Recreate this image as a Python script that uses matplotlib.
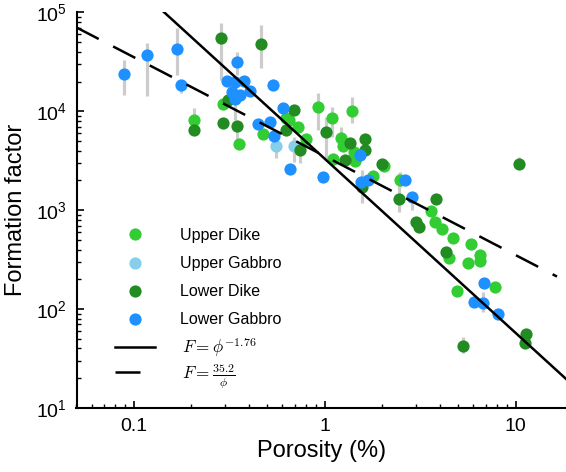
import numpy as np
import matplotlib
matplotlib.use("Agg")
import matplotlib.pyplot as plt
from matplotlib.font_manager import FontProperties
from matplotlib.lines import Line2D

plt.rcParams['font.family'] = ['Liberation Sans', 'DejaVu Sans']

# ---------------- data (porosity in %, formation factor) ----------------
ud_phi = [0.207, 0.294, 0.356, 0.474, 0.626, 0.647, 0.723, 0.797, 0.922, 1.093,
          1.392, 1.224, 1.244, 1.102, 1.43, 1.438, 2.044, 1.789, 2.472, 3.60,
          3.79, 4.14, 4.68, 5.83, 4.49, 5.61, 6.54, 6.54, 4.91, 7.85]
ud_F = [8110, 11720, 4675, 5885, 8635, 8110, 6940, 5275, 10970, 8600,
        10160, 5420, 4430, 3330, 3880, 3125, 2782, 2205, 2023, 993,
        762, 643, 527, 454, 330, 290, 351, 305, 154, 166]
ud_lo = [8110, 11720, 4675, 5885, 8635, 8110, 6940, 5275, 6430, 5460,
         7560, 4430, 4430, 3330, 3880, 3125, 2782, 2205, 1700, 993,
         762, 643, 527, 454, 330, 290, 351, 305, 154, 166]
ud_hi = [10720, 11720, 4675, 5885, 8635, 8110, 6940, 5275, 15200, 10970,
         13840, 6940, 4430, 3330, 3880, 3125, 2782, 2205, 2420, 993,
         762, 643, 527, 454, 330, 290, 351, 305, 154, 190]

ug_phi = [0.556, 0.687]
ug_F = [4430, 4430]
ug_lo = [3350, 3055]
ug_hi = [5100, 5460]

ld_phi = [0.207, 0.286, 0.464, 0.294, 0.310, 0.347, 0.687, 0.626, 0.745, 1.02,
          1.349, 1.633, 1.624, 1.274, 2.002, 1.575, 2.46, 3.84, 3.02, 3.12,
          4.32, 10.4, 5.31, 11.29, 11.15]
ld_F = [6530, 55000, 48300, 7690, 12900, 7170, 10400, 6500, 4040, 6180,
        4785, 5275, 4105, 3200, 2950, 1708, 1313, 1283, 757, 673,
        381, 2900, 42.3, 55.5, 45.7]
ld_lo = [6530, 20560, 27200, 7690, 12900, 5100, 10400, 6500, 2985, 3200,
         4785, 5275, 4105, 3200, 2950, 1177, 955, 1283, 757, 673,
         381, 2900, 35.9, 55.5, 45.7]
ld_hi = [6530, 77400, 73900, 7690, 12900, 7170, 10400, 6500, 4040, 8690,
         4785, 5275, 4105, 3200, 2950, 2535, 2365, 1283, 757, 673,
         381, 3430, 52.1, 55.5, 45.7]

lg_phi = [0.0886, 0.1175, 0.1675, 0.1774, 0.347, 0.306, 0.339, 0.378, 0.328, 0.360,
          0.339, 0.406, 0.535, 0.446, 0.515, 0.545, 0.606, 0.654, 0.976, 1.523,
          1.690, 1.556, 2.628, 2.871, 6.81, 6.03, 6.73, 8.14]
lg_F = [24040, 37400, 42300, 18450, 31770, 20100, 19770, 20330, 15670, 14510,
        13430, 16030, 18450, 7390, 7740, 5660, 10900, 2625, 2170, 3655,
        2043, 1918, 2010, 1353, 183, 117, 116, 89]
lg_lo = [14510, 14180, 23100, 15200, 23100, 20100, 19770, 20330, 15670, 14510,
         8110, 16030, 18450, 7390, 7740, 5660, 10900, 2625, 2170, 3655,
         2043, 1918, 2010, 1000, 183, 117, 93, 89]
lg_hi = [32750, 48600, 68900, 20560, 40000, 20100, 19770, 20330, 15670, 14510,
         13430, 16030, 18450, 7390, 7740, 5660, 10900, 2625, 2170, 3655,
         2043, 1918, 2010, 1353, 183, 117, 148, 89]

labels = ['Upper Dike', 'Upper Gabbro', 'Lower Dike', 'Lower Gabbro']
colors = ['#32CD32', '#87CEEB', '#228B22', '#1E90FF']

fit_exp = -1.76
fit_a = 35.2

# ---------------- figure ----------------
fig = plt.figure(figsize=(5.66, 4.72), dpi=100)
ax = fig.add_axes([76.5 / 566, (472 - 408) / 472, 490 / 566, 395.6 / 472])
ax.set_xscale('log')
ax.set_yscale('log')
ax.set_xlim(0.05, 18.5)
ax.set_ylim(10, 1e5)

series = [(ud_phi, ud_F, ud_lo, ud_hi), (ug_phi, ug_F, ug_lo, ug_hi),
          (ld_phi, ld_F, ld_lo, ld_hi), (lg_phi, lg_F, lg_lo, lg_hi)]

handles = []
for (p, F, lo, hi), lab, c in zip(series, labels, colors):
    ax.vlines(np.array(p), np.array(lo), np.array(hi), color='#cccccc', lw=2.3, zorder=1)
for (p, F, lo, hi), lab, c in zip(series, labels, colors):
    ax.plot(p, F, 'o', ms=8.8, color=c, mec='none', zorder=2)
    handles.append(Line2D([], [], marker='o', ls='none', ms=8.8, color=c, mec='none', label=lab))

xx = np.logspace(np.log10(0.05), np.log10(25), 300)
l1, = ax.plot(xx, (xx / 100) ** fit_exp, color='black', lw=1.8, zorder=3,
              label=r'$F = \phi^{-1.76}$')
xd = np.logspace(np.log10(0.05), np.log10(16.5), 300)
l2, = ax.plot(xd, fit_a / (xd / 100), color='black', lw=1.8, zorder=3,
              ls=(0, (10, 6.5)), label=r'$F = \frac{35.2}{\phi}$')

for s in ['top', 'right']:
    ax.spines[s].set_visible(False)
for s in ['left', 'bottom']:
    ax.spines[s].set_linewidth(1.5)

ax.tick_params(which='both', direction='in', labelsize=14)
ax.tick_params(which='major', length=5, width=1.2, pad=7)
ax.tick_params(which='minor', length=3, width=1.0)
ax.set_xticks([0.1, 1, 10])
ax.set_xticklabels(['0.1', '1', '10'])
ax.set_yticks([10, 100, 1000, 1e4, 1e5])
ax.set_yticklabels([r'$\mathregular{10^{%d}}$' % k for k in range(1, 6)])

ax.set_xlabel('Porosity (%)', fontsize=17, labelpad=4)
ax.set_ylabel('Formation factor', fontsize=17, labelpad=6)

fp = FontProperties(family=['Liberation Sans', 'DejaVu Sans'], size=11.5, math_fontfamily='cm')
fpm = FontProperties(family=['Liberation Sans', 'DejaVu Sans'], size=12.3, math_fontfamily='cm')
leg1 = ax.legend(handles=handles, loc='upper left', bbox_to_anchor=(115 / 566, (472 - 228) / 472),
                 bbox_transform=fig.transFigure, frameon=False, prop=fp, borderpad=0,
                 borderaxespad=0, handlelength=2.5, handletextpad=1.55, labelspacing=0.82,
                 numpoints=1)
ax.add_artist(leg1)
ax.legend(handles=[l1, l2], loc='upper left', bbox_to_anchor=(115 / 566, (472 - 335) / 472),
          bbox_transform=fig.transFigure, frameon=False, prop=fpm, borderpad=0,
          borderaxespad=0, handlelength=2.35, handletextpad=1.55, labelspacing=0.15)

fig.savefig('out.png', dpi=100)
